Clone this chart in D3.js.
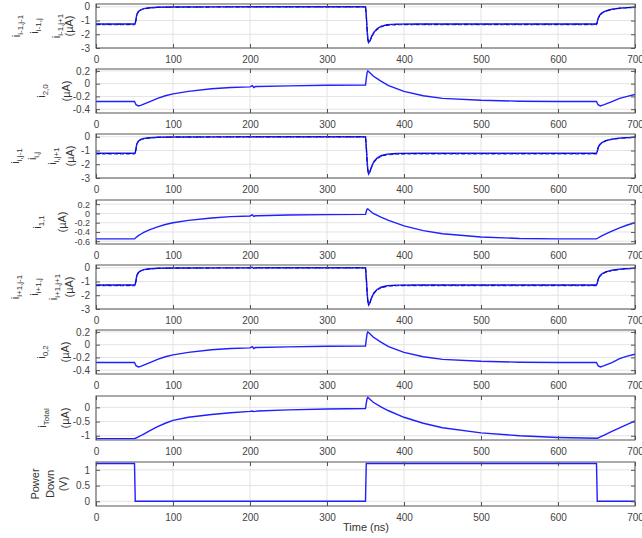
<!DOCTYPE html>
<html>
<head>
<meta charset="utf-8">
<script src="https://cdn.jsdelivr.net/npm/d3@7"></script>
<style>
    body { margin: 0; background: #fff; }
    svg { font-family: "Liberation Sans", Arial, sans-serif; }
</style>
</head>
<body>
<div id="chart"></div>
<script>
// time samples (ns) for the row current panels
const tStep = [0, 50, 51, 52, 53, 55, 58, 62, 70, 80, 100, 150, 200, 203, 205, 207, 210, 250, 300,
    350, 351, 352, 353, 354, 356, 358, 361, 365, 370, 378, 390, 420, 500,
    650, 651, 652, 654, 657, 662, 670, 680, 690, 700];

// i(i-1, j-1), i(i-1, j), i(i-1, j+1)
const iTopA = [-1.25, -1.25, -1.2, -0.9, -0.55, -0.35, -0.22, -0.14, -0.07, -0.04, -0.02, -0.01, 0, 0, 0, 0, 0, 0, 0,
    0, -0.6, -1.6, -2.3, -2.6, -2.45, -2.15, -1.85, -1.6, -1.42, -1.3, -1.26, -1.25, -1.25,
    -1.25, -1.1, -0.85, -0.62, -0.45, -0.3, -0.18, -0.1, -0.06, -0.04];
const iTopB = [-1.3, -1.3, -1.25, -0.95, -0.6, -0.38, -0.24, -0.15, -0.08, -0.05, -0.03, -0.02, -0.01, -0.01, -0.01, -0.01, -0.01, -0.01, -0.01,
    -0.01, -0.65, -1.65, -2.35, -2.62, -2.48, -2.2, -1.9, -1.65, -1.47, -1.35, -1.31, -1.3, -1.3,
    -1.3, -1.15, -0.9, -0.66, -0.48, -0.32, -0.2, -0.12, -0.07, -0.05];
const iTopC = [-1.27, -1.27, -1.22, -0.92, -0.57, -0.36, -0.23, -0.15, -0.08, -0.04, -0.02, -0.01, 0, 0, 0, 0, 0, 0, 0,
    0, -0.62, -1.62, -2.32, -2.61, -2.46, -2.17, -1.87, -1.62, -1.44, -1.32, -1.28, -1.27, -1.27,
    -1.27, -1.12, -0.87, -0.64, -0.46, -0.31, -0.19, -0.11, -0.06, -0.04];

// i(i, j-1), i(i, j), i(i, j+1)
const iMidA = [-1.2, -1.2, -1.15, -0.85, -0.5, -0.32, -0.2, -0.13, -0.07, -0.04, -0.02, -0.01, 0, 0, 0, 0, 0, 0, 0,
    0, -0.7, -1.7, -2.4, -2.7, -2.5, -2.15, -1.8, -1.55, -1.38, -1.26, -1.21, -1.2, -1.2,
    -1.2, -1.05, -0.8, -0.58, -0.42, -0.28, -0.17, -0.1, -0.06, -0.04];
const iMidB = [-1.25, -1.25, -1.2, -0.9, -0.55, -0.35, -0.22, -0.14, -0.08, -0.05, -0.03, -0.02, -0.01, -0.01, -0.01, -0.01, -0.01, -0.01, -0.01,
    -0.01, -0.72, -1.72, -2.42, -2.72, -2.52, -2.2, -1.85, -1.6, -1.43, -1.31, -1.26, -1.25, -1.25,
    -1.25, -1.1, -0.85, -0.62, -0.45, -0.3, -0.19, -0.11, -0.07, -0.05];
const iMidC = [-1.22, -1.22, -1.17, -0.87, -0.52, -0.33, -0.21, -0.14, -0.08, -0.04, -0.02, -0.01, 0, 0, 0, 0, 0, 0, 0,
    0, -0.71, -1.71, -2.41, -2.71, -2.51, -2.17, -1.82, -1.57, -1.4, -1.28, -1.23, -1.22, -1.22,
    -1.22, -1.07, -0.82, -0.6, -0.43, -0.29, -0.18, -0.1, -0.06, -0.04];

// i(i+1, j-1), i(i+1, j), i(i+1, j+1)
const iBotA = [-1.25, -1.25, -1.2, -0.9, -0.55, -0.35, -0.22, -0.14, -0.07, -0.04, -0.02, -0.01, 0, 0.03, -0.04, -0.01, 0, 0, 0,
    0, -0.7, -1.7, -2.4, -2.7, -2.5, -2.15, -1.82, -1.58, -1.42, -1.3, -1.26, -1.25, -1.25,
    -1.25, -1.1, -0.85, -0.62, -0.45, -0.3, -0.18, -0.1, -0.06, -0.04];
const iBotB = [-1.3, -1.3, -1.25, -0.95, -0.6, -0.38, -0.24, -0.15, -0.08, -0.05, -0.03, -0.02, -0.01, 0.02, -0.05, -0.02, -0.01, -0.01, -0.01,
    -0.01, -0.72, -1.72, -2.42, -2.72, -2.52, -2.2, -1.87, -1.63, -1.47, -1.35, -1.31, -1.3, -1.3,
    -1.3, -1.15, -0.9, -0.66, -0.48, -0.32, -0.2, -0.12, -0.07, -0.05];
const iBotC = [-1.27, -1.27, -1.22, -0.92, -0.57, -0.36, -0.23, -0.15, -0.08, -0.04, -0.02, -0.01, 0, 0.03, -0.04, -0.01, 0, 0, 0,
    0, -0.71, -1.71, -2.41, -2.71, -2.51, -2.17, -1.84, -1.6, -1.44, -1.32, -1.28, -1.27, -1.27,
    -1.27, -1.12, -0.87, -0.64, -0.46, -0.31, -0.19, -0.11, -0.06, -0.04];

// time samples (ns) for the slow node currents
const tSlow = [0, 50, 52, 55, 58, 62, 70, 80, 90, 100, 120, 150, 175, 200, 203, 205, 207, 210, 250, 300,
    350, 351, 352, 353, 355, 360, 370, 380, 400, 425, 450, 500, 550, 600,
    650, 652, 655, 660, 670, 680, 690, 700];

const i20 = [-0.28, -0.28, -0.33, -0.35, -0.34, -0.32, -0.28, -0.23, -0.19, -0.16, -0.12, -0.08, -0.06, -0.05, -0.03, -0.06, -0.045, -0.045, -0.035, -0.025,
    -0.02, 0.08, 0.17, 0.2, 0.18, 0.12, 0.04, -0.03, -0.12, -0.19, -0.23, -0.26, -0.275, -0.28,
    -0.28, -0.33, -0.35, -0.33, -0.28, -0.23, -0.2, -0.17];
const i11 = [-0.55, -0.55, -0.52, -0.48, -0.45, -0.41, -0.35, -0.29, -0.24, -0.2, -0.15, -0.1, -0.07, -0.055, -0.03, -0.065, -0.05, -0.05, -0.035, -0.025,
    -0.02, 0.04, 0.09, 0.1, 0.07, 0.0, -0.08, -0.15, -0.27, -0.37, -0.44, -0.51, -0.54, -0.55,
    -0.55, -0.53, -0.5, -0.46, -0.38, -0.31, -0.25, -0.2];
const i02 = [-0.28, -0.28, -0.33, -0.35, -0.34, -0.32, -0.28, -0.23, -0.19, -0.16, -0.12, -0.08, -0.06, -0.05, -0.03, -0.06, -0.045, -0.045, -0.035, -0.025,
    -0.02, 0.08, 0.17, 0.2, 0.18, 0.12, 0.04, -0.03, -0.12, -0.19, -0.23, -0.26, -0.275, -0.28,
    -0.28, -0.33, -0.35, -0.33, -0.28, -0.22, -0.18, -0.15];
const iTotal = [-1.1, -1.1, -1.08, -1.04, -1.0, -0.94, -0.82, -0.68, -0.56, -0.46, -0.35, -0.25, -0.19, -0.14, -0.13, -0.15, -0.14, -0.13, -0.09, -0.06,
    -0.04, 0.15, 0.3, 0.35, 0.3, 0.18, 0.02, -0.12, -0.35, -0.56, -0.72, -0.9, -1.0, -1.06,
    -1.09, -1.08, -1.04, -0.98, -0.85, -0.72, -0.6, -0.48];

// power down control voltage
const tPow = [0, 50, 51, 350, 351, 650, 651, 700];
const vPow = [1.2, 1.2, 0, 0, 1.2, 1.2, 0, 0];

// tick labels
const xTicks = [0, 100, 200, 300, 400, 500, 600, 700];
const yTicksRow = [0, -1, -2, -3];
const yTicksNode = [0.2, 0, -0.2, -0.4];
const yTicks11 = [0.2, 0, -0.2, -0.4, -0.6];
const yTicksTotal = [0, -0.5, -1];
const yTicksPow = [0, 0.5, 1];

const width = 642;
const height = 538;
const left = 96;
const right = 635;
const panelH = 44;
const blue = '#1f1fff';

const panels = [
    { top: 4, domain: [-3, 0.2], ticks: yTicksRow, t: tStep, series: [iTopA, iTopB, iTopC],
      labels: [{ x: 20, m: 'i', s: 'i-1,j-1' }, { x: 38, m: 'i', s: 'i-1,j' }, { x: 60, m: 'i', s: 'i-1,j+1' }, { x: 73, m: '(\u00b5A)' }] },
    { top: 69, domain: [-0.46, 0.23], ticks: yTicksNode, t: tSlow, series: [i20],
      labels: [{ x: 45, m: 'i', s: '2,0' }, { x: 70, m: '(\u00b5A)' }] },
    { top: 134, domain: [-3, 0.2], ticks: yTicksRow, t: tStep, series: [iMidA, iMidB, iMidC],
      labels: [{ x: 19, m: 'i', s: 'i,j-1' }, { x: 36, m: 'i', s: 'i,j' }, { x: 56, m: 'i', s: 'i,j+1' }, { x: 74, m: '(\u00b5A)' }] },
    { top: 200, domain: [-0.66, 0.29], ticks: yTicks11, t: tSlow, series: [i11], tickFont: '9px',
      labels: [{ x: 41, m: 'i', s: '1,1' }, { x: 66, m: '(\u00b5A)' }] },
    { top: 265, domain: [-3, 0.2], ticks: yTicksRow, t: tStep, series: [iBotA, iBotB, iBotC],
      labels: [{ x: 19, m: 'i', s: 'i+1,j-1' }, { x: 38, m: 'i', s: 'i+1,j' }, { x: 57, m: 'i', s: 'i+1,j+1' }, { x: 73, m: '(\u00b5A)' }] },
    { top: 330, domain: [-0.46, 0.23], ticks: yTicksNode, t: tSlow, series: [i02],
      labels: [{ x: 45, m: 'i', s: '0,2' }, { x: 69, m: '(\u00b5A)' }] },
    { top: 396, domain: [-1.15, 0.4], ticks: yTicksTotal, t: tSlow, series: [iTotal],
      labels: [{ x: 46, m: 'i', s: 'Total' }, { x: 69, m: '(\u00b5A)' }] },
    { top: 462, domain: [-0.15, 1.25], ticks: yTicksPow, t: tPow, series: [vPow],
      labels: [{ x: 39, m: 'Power' }, { x: 54, m: 'Down' }, { x: 67, m: '(V)' }] }
];

// solid, dashed and dash-dot, like the overlapped traces in the figure
const styles = [
    { color: blue, w: 1.4, dash: null },
    { color: '#2a2aff', w: 1.2, dash: '4,2' },
    { color: '#00008a', w: 0.8, dash: '5,2,1,2' }
];

const svg = d3.select('#chart').append('svg')
    .attr('width', width)
    .attr('height', height);

const x = d3.scaleLinear().domain([0, 700]).range([left, right]);

panels.forEach((p, idx) => {
    const bottom = p.top + panelH;
    const y = d3.scaleLinear().domain(p.domain).range([bottom, p.top]);
    const g = svg.append('g');

    // grid
    g.selectAll('.gx').data(xTicks).enter().append('line')
        .attr('x1', d => x(d)).attr('x2', d => x(d))
        .attr('y1', p.top).attr('y2', bottom)
        .attr('stroke', '#e3e3e3');
    g.selectAll('.gy').data(p.ticks).enter().append('line')
        .attr('x1', left).attr('x2', right)
        .attr('y1', d => y(d)).attr('y2', d => y(d))
        .attr('stroke', '#e3e3e3');

    // traces
    const clipId = 'clip' + idx;
    svg.append('clipPath').attr('id', clipId)
        .append('rect').attr('x', left).attr('y', p.top).attr('width', right - left).attr('height', panelH);

    p.series.forEach((vals, k) => {
        const line = d3.line().x((d, i) => x(p.t[i])).y(d => y(d));
        const st = styles[k];
        g.append('path')
            .attr('d', line(vals))
            .attr('clip-path', 'url(#' + clipId + ')')
            .attr('fill', 'none')
            .attr('stroke', st.color)
            .attr('stroke-width', st.w)
            .attr('stroke-dasharray', st.dash);
    });

    // axes, ticks inside on all four sides
    const yLeft = d3.axisLeft(y).tickValues(p.ticks).tickSize(-4).tickPadding(6).tickFormat(d => String(d));
    const yRight = d3.axisRight(y).tickValues(p.ticks).tickSize(-4).tickFormat('');
    const xBottom = d3.axisBottom(x).tickValues(xTicks).tickSize(-4).tickPadding(8).tickFormat(d => String(d));
    const xTop = d3.axisTop(x).tickValues(xTicks).tickSize(-4).tickFormat('');

    const ax = [
        g.append('g').attr('transform', 'translate(' + left + ',0)').call(yLeft),
        g.append('g').attr('transform', 'translate(' + right + ',0)').call(yRight),
        g.append('g').attr('transform', 'translate(0,' + bottom + ')').call(xBottom),
        g.append('g').attr('transform', 'translate(0,' + p.top + ')').call(xTop)
    ];
    ax.forEach(a => {
        a.select('.domain').remove();
        a.selectAll('line').attr('stroke', '#555');
        a.selectAll('text').attr('fill', '#444').style('font-size', '10px');
    });
    if (p.tickFont) ax[0].selectAll('text').style('font-size', p.tickFont);

    // frame
    g.append('rect')
        .attr('x', left).attr('y', p.top)
        .attr('width', right - left).attr('height', panelH)
        .attr('fill', 'none')
        .attr('stroke', '#555');

    // rotated y labels, one text per line, subscripts as tspans
    const cy = p.top + panelH / 2;
    p.labels.forEach(l => {
        const t = g.append('text')
            .attr('transform', 'translate(' + l.x + ',' + cy + ') rotate(-90)')
            .attr('text-anchor', 'middle')
            .attr('fill', '#333')
            .style('font-size', '11px');
        t.append('tspan').text(l.m);
        if (l.s) {
            t.append('tspan').attr('dy', 3).style('font-size', '8px').text(l.s);
        }
    });
});

svg.append('text')
    .attr('x', 366)
    .attr('y', 531)
    .attr('text-anchor', 'middle')
    .attr('fill', '#333')
    .style('font-size', '11px')
    .text('Time (ns)');
</script>
</body>
</html>
